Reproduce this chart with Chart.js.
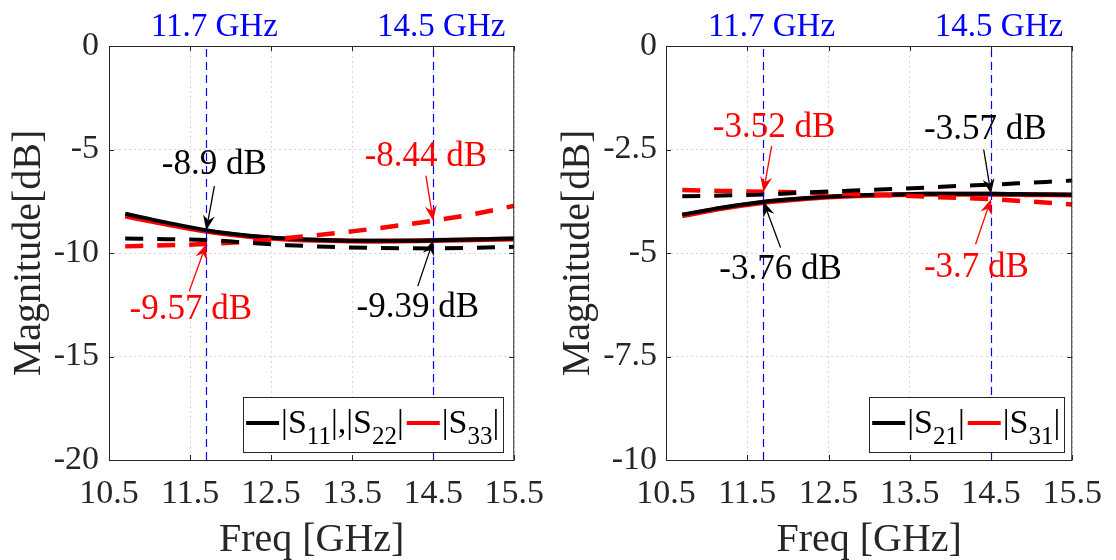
<!DOCTYPE html>
<html>
<head>
<meta charset="utf-8">
<script src="https://cdn.jsdelivr.net/npm/chart.js@4.4.1/dist/chart.umd.min.js"></script>
<style>
  html, body { margin: 0; padding: 0; background: #fff; }
  #wrap { display: flex; width: 1116px; height: 560px; font-family: "Liberation Serif"; }
  canvas { display: block; }
</style>
</head>
<body>
<div id="wrap">
  <canvas id="left" width="558" height="560"></canvas>
  <canvas id="right" width="558" height="560"></canvas>
</div>
<script>
// frequency points (GHz)
const freq = [10.7, 11.2, 11.7, 12.2, 12.7, 13.2, 13.7, 14.1, 14.5, 15.0, 15.5];

// left plot: reflection
const s11Solid = [-8.10, -8.52, -8.90, -9.15, -9.30, -9.38, -9.41, -9.41, -9.39, -9.35, -9.30];
const s33Solid = [-8.22, -8.60, -8.95, -9.19, -9.33, -9.40, -9.43, -9.42, -9.40, -9.36, -9.32];
const s11Dash  = [-9.30, -9.33, -9.37, -9.50, -9.62, -9.70, -9.75, -9.77, -9.78, -9.75, -9.70];
const s33Dash  = [-9.68, -9.62, -9.57, -9.45, -9.28, -9.08, -8.86, -8.66, -8.44, -8.12, -7.72];

// right plot: transmission
const s21Solid = [-4.07, -3.90, -3.76, -3.68, -3.62, -3.59, -3.57, -3.57, -3.57, -3.58, -3.59];
const s31Solid = [-4.10, -3.92, -3.78, -3.69, -3.63, -3.60, -3.58, -3.58, -3.58, -3.59, -3.60];
const s21Dash  = [-3.63, -3.61, -3.59, -3.54, -3.50, -3.46, -3.42, -3.38, -3.35, -3.30, -3.25];
const s31Dash  = [-3.48, -3.50, -3.52, -3.54, -3.57, -3.60, -3.64, -3.67, -3.70, -3.76, -3.83];

const xTicks = [10.5, 11.5, 12.5, 13.5, 14.5, 15.5];
const yTicksLeft = [0, -5, -10, -15, -20];
const yTicksRight = [0, -2.5, -5, -7.5, -10];

const markerFreqs = [11.7, 14.5];
const markerLabels = ["11.7 GHz", "14.5 GHz"];

// annotation readouts: value label, arrow tip (freq, dB), text centre and arrow tail in data units
const notesLeft = [
  { text: "-8.9 dB",  color: "#000", tip: [11.7, -8.9],  at: [11.80, -5.72],  tail: [11.80, -6.77] },
  { text: "-8.44 dB", color: "#f00", tip: [14.5, -8.44], at: [14.41, -5.34],  tail: [14.41, -6.26] },
  { text: "-9.57 dB", color: "#f00", tip: [11.7, -9.57], at: [11.51, -12.73], tail: [11.49, -11.85] },
  { text: "-9.39 dB", color: "#000", tip: [14.5, -9.39], at: [14.31, -12.63], tail: [14.31, -11.60] }
];
const notesRight = [
  { text: "-3.52 dB", color: "#f00", tip: [11.7, -3.52], at: [11.83, -1.97], tail: [11.80, -2.42] },
  { text: "-3.57 dB", color: "#000", tip: [14.5, -3.57], at: [14.43, -2.02], tail: [14.41, -2.50] },
  { text: "-3.76 dB", color: "#000", tip: [11.7, -3.76], at: [11.91, -5.40], tail: [11.91, -4.87] },
  { text: "-3.7 dB",  color: "#f00", tip: [14.5, -3.70], at: [14.32, -5.35], tail: [14.31, -4.79] }
];

const FONT = "'Liberation Serif', 'DejaVu Serif', serif";
const AXIS = "#262626";
const GRID = "rgba(38,38,38,0.18)";

function series(label, values, color, width, dash, inLegend) {
  return {
    label: label,
    data: freq.map((f, i) => ({ x: f, y: values[i] })),
    borderColor: color,
    backgroundColor: color,
    borderWidth: width,
    borderDash: dash,
    pointRadius: 0,
    cubicInterpolationMode: "monotone",
    fill: false,
    inLegend: inLegend
  };
}

function drawArrow(ctx, x0, y0, x1, y1, color) {
  const a = Math.atan2(y1 - y0, x1 - x0);
  const c = Math.cos(a), s = Math.sin(a);
  const L = 15, W = 6, back = 10;
  ctx.save();
  ctx.setLineDash([]);
  ctx.strokeStyle = color;
  ctx.fillStyle = color;
  ctx.lineWidth = 1.3;
  ctx.beginPath();
  ctx.moveTo(x0, y0);
  ctx.lineTo(x1 - c * back, y1 - s * back);
  ctx.stroke();
  ctx.beginPath();
  ctx.moveTo(x1, y1);
  ctx.lineTo(x1 - c * L - s * W, y1 - s * L + c * W);
  ctx.lineTo(x1 - c * back, y1 - s * back);
  ctx.lineTo(x1 - c * L + s * W, y1 - s * L - c * W);
  ctx.closePath();
  ctx.fill();
  ctx.restore();
}

// text with _{..} subscripts
function richParts(label) {
  const bits = label.split(/_\{(.*?)\}/);
  return bits.map((t, i) => ({ t: t, sub: i % 2 === 1 }));
}
function richWidth(ctx, parts, size, subSize) {
  let w = 0;
  parts.forEach(p => {
    ctx.font = (p.sub ? subSize : size) + "px " + FONT;
    w += ctx.measureText(p.t).width;
  });
  return w;
}
function drawRich(ctx, parts, x, y, size, subSize) {
  parts.forEach(p => {
    ctx.font = (p.sub ? subSize : size) + "px " + FONT;
    ctx.fillText(p.t, x, p.sub ? y + 11 : y);
    x += ctx.measureText(p.t).width;
  });
}

const decorations = {
  id: "decorations",
  afterDatasetsDraw(chart) {
    const { ctx, chartArea: ca, scales } = chart;
    markerFreqs.forEach(f => {
      const x = Math.round(scales.x.getPixelForValue(f)) + 0.5;
      ctx.save();
      ctx.strokeStyle = "rgb(0,0,255)";
      ctx.lineWidth = 1.2;
      ctx.setLineDash([8, 5]);
      ctx.beginPath();
      ctx.moveTo(x, ca.top + 3);
      ctx.lineTo(x, ca.bottom);
      ctx.stroke();
      ctx.restore();
    });
  },
  afterDraw(chart, args, opts) {
    const { ctx, chartArea: ca, scales } = chart;
    ctx.save();
    ctx.setLineDash([]);

    // axes box and inward ticks
    ctx.strokeStyle = AXIS;
    ctx.lineWidth = 1;
    ctx.strokeRect(ca.left + 0.5, ca.top + 0.5, ca.right - ca.left - 1, ca.bottom - ca.top);
    ctx.beginPath();
    scales.x.ticks.forEach(t => {
      const x = Math.round(scales.x.getPixelForValue(t.value)) + 0.5;
      ctx.moveTo(x, ca.bottom); ctx.lineTo(x, ca.bottom - 5);
      ctx.moveTo(x, ca.top); ctx.lineTo(x, ca.top + 5);
    });
    scales.y.ticks.forEach(t => {
      const y = Math.round(scales.y.getPixelForValue(t.value)) + 0.5;
      ctx.moveTo(ca.left, y); ctx.lineTo(ca.left + 5, y);
      ctx.moveTo(ca.right, y); ctx.lineTo(ca.right - 5, y);
    });
    ctx.stroke();

    // frequency labels over the marker lines
    ctx.fillStyle = "rgb(0,0,255)";
    ctx.font = "33px " + FONT;
    ctx.textAlign = "center";
    ctx.textBaseline = "alphabetic";
    markerFreqs.forEach((f, i) => {
      ctx.fillText(markerLabels[i], scales.x.getPixelForValue(f) + 8, ca.top - 10);
    });

    // readouts
    ctx.font = "35px " + FONT;
    ctx.textBaseline = "middle";
    opts.notes.forEach(n => {
      const px = v => scales.x.getPixelForValue(v);
      const py = v => scales.y.getPixelForValue(v);
      drawArrow(ctx, px(n.tail[0]), py(n.tail[1]), px(n.tip[0]), py(n.tip[1]), n.color);
      ctx.fillStyle = n.color;
      ctx.fillText(n.text, px(n.at[0]), py(n.at[1]));
    });

    // legend
    const items = chart.data.datasets.filter(d => d.inLegend);
    const size = 34, subSize = 25, sample = 33;
    const widths = items.map(d => richWidth(ctx, richParts(d.label), size, subSize));
    let w = 4;
    items.forEach((d, i) => { w += sample + 2 + widths[i] + 3; });
    const h = 55;
    const bx = ca.right - opts.legendRight - w;
    const by = ca.bottom - 8 - h;
    ctx.fillStyle = "#fff";
    ctx.fillRect(bx, by, w, h);
    ctx.strokeStyle = AXIS;
    ctx.lineWidth = 1;
    ctx.strokeRect(Math.round(bx) + 0.5, Math.round(by) + 0.5, Math.round(w), h);
    let x = bx + 3;
    const midY = by + 26;
    ctx.textAlign = "left";
    ctx.textBaseline = "alphabetic";
    items.forEach((d, i) => {
      ctx.strokeStyle = d.borderColor;
      ctx.lineWidth = 4;
      ctx.beginPath();
      ctx.moveTo(x, midY); ctx.lineTo(x + sample, midY);
      ctx.stroke();
      x += sample + 2;
      ctx.fillStyle = "#000";
      drawRich(ctx, richParts(d.label), x, by + 36, size, subSize);
      x += widths[i] + 3;
    });
    ctx.restore();
  }
};

function makeChart(id, datasets, yMin, yTicks, opts) {
  return new Chart(document.getElementById(id), {
    type: "line",
    data: { datasets: datasets },
    plugins: [decorations],
    options: {
      responsive: false,
      animation: false,
      layout: { padding: { left: 0, right: opts.padRight, top: 46, bottom: 0 } },
      plugins: {
        legend: { display: false },
        tooltip: { enabled: false },
        decorations: { notes: opts.notes, legendRight: opts.legendRight }
      },
      scales: {
        x: {
          type: "linear",
          min: 10.5,
          max: 15.5,
          afterBuildTicks: s => { s.ticks = xTicks.map(v => ({ value: v })); },
          afterFit: s => { s.height = 100; },
          grid: { color: GRID, drawTicks: false },
          border: { display: false, dash: [2, 3] },
          ticks: {
            font: { family: FONT, size: 34 },
            color: AXIS,
            padding: 14,
            maxRotation: 0,
            autoSkip: false,
            callback: v => v.toFixed(1)
          },
          title: {
            display: true,
            text: "Freq [GHz]",
            color: AXIS,
            font: { family: FONT, size: 40, lineHeight: 1 },
            padding: { top: 0, bottom: 0 }
          }
        },
        y: {
          type: "linear",
          min: yMin,
          max: 0,
          afterBuildTicks: s => { s.ticks = yTicks.map(v => ({ value: v })); },
          afterFit: s => { s.width = opts.yWidth; },
          grid: { color: GRID, drawTicks: false },
          border: { display: false, dash: [2, 3] },
          ticks: {
            font: { family: FONT, size: 34 },
            color: AXIS,
            padding: opts.yPad,
            callback: v => String(v)
          },
          title: {
            display: true,
            text: "Magnitude[dB]",
            color: AXIS,
            font: { family: FONT, size: 40, lineHeight: 1 },
            padding: { top: opts.titlePad, bottom: 0 }
          }
        }
      }
    }
  });
}

function build() {
  makeChart("left", [
    series("|S_{11}|,|S_{22}| dashed", s11Dash, "#000", 4, [18, 14], false),
    series("|S_{33}| dashed", s33Dash, "#f00", 4.5, [18, 14], false),
    series("|S_{11}|,|S_{22}|", s11Solid, "#000", 4, [], true),
    series("|S_{33}|", s33Solid, "#f00", 5, [], true)
  ], -20, yTicksLeft, { padRight: 39, yWidth: 109, yPad: 10, titlePad: 9, legendRight: 11, notes: notesLeft });

  makeChart("right", [
    series("|S_{21}| dashed", s21Dash, "#000", 4, [18, 14], false),
    series("|S_{31}| dashed", s31Dash, "#f00", 4.5, [18, 14], false),
    series("|S_{21}|", s21Solid, "#000", 4, [], true),
    series("|S_{31}|", s31Solid, "#f00", 5, [], true)
  ], -10, yTicksRight, { padRight: 40, yWidth: 108, yPad: 9, titlePad: 0, legendRight: 8, notes: notesRight });
}

Promise.all([
  document.fonts.load('34px "Liberation Serif"'),
  document.fonts.load('25px "Liberation Serif"')
]).then(build, build);
</script>
</body>
</html>
